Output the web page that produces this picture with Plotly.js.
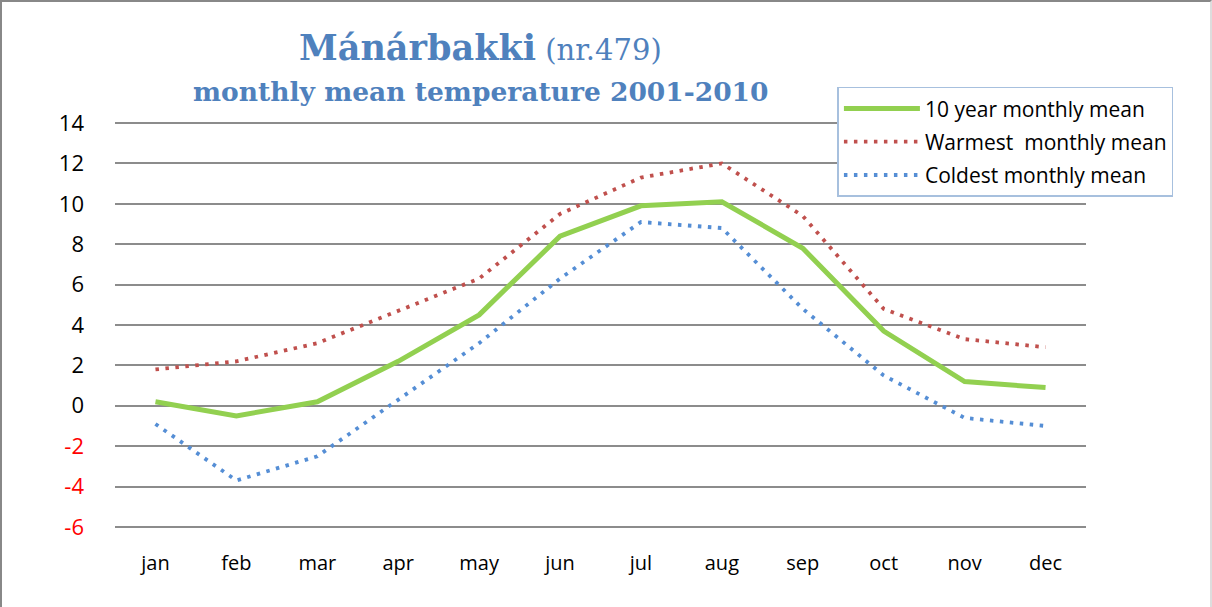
<!DOCTYPE html>
<html>
<head>
<meta charset="utf-8">
<script src="https://cdn.plot.ly/plotly-3.0.1.min.js"></script>
<style>
html,body{margin:0;padding:0;background:#fff;}
#chart{width:1212px;height:607px;box-sizing:border-box;border-left:2px solid #888;border-top:2px solid #888;border-right:2px solid #ddd;}
</style>
</head>
<body>
<div id="chart"></div>
<script>
const months = ["jan","feb","mar","apr","may","jun","jul","aug","sep","oct","nov","dec"];
const meanTemp = [0.2, -0.5, 0.2, 2.2, 4.5, 8.4, 9.9, 10.1, 7.8, 3.7, 1.2, 0.9];
const warmest = [1.8, 2.2, 3.1, 4.7, 6.3, 9.5, 11.3, 12.0, 9.4, 4.8, 3.3, 2.9];
const coldest = [-0.9, -3.7, -2.5, 0.3, 3.1, 6.3, 9.1, 8.8, 4.8, 1.5, -0.6, -1.0];
const yTicks = [-6, -4, -2, 0, 2, 4, 6, 8, 10, 12, 14];
const yTickText = yTicks.map(v => v < 0 ? '<span style="color:#ff0000">' + v + '</span>' : String(v));

const traces = [
  {x: months, y: meanTemp, name: "10 year monthly mean", type: "scatter", mode: "lines",
   legendgroup: "a", line: {color: "#92D050", width: 5}},
  {x: months, y: warmest, name: "Warmest  monthly mean", type: "scatter", mode: "lines",
   legendgroup: "b", line: {color: "#C0504D", width: 3.8, dash: "3.5px,6.5px"}},
  {x: months, y: coldest, name: "Coldest monthly mean", type: "scatter", mode: "lines",
   legendgroup: "c", line: {color: "#558ED5", width: 3.8, dash: "3.5px,6.5px"}}
];

const layout = {
  width: 1208, height: 605,
  margin: {l: 112.5, r: 123.5, t: 119, b: 78, pad: 0},
  paper_bgcolor: "#fff", plot_bgcolor: "#fff",
  font: {family: "Open Sans, sans-serif", size: 19, color: "#000"},
  showlegend: true,
  legend: {x: 0.744, y: 1.084, xanchor: "left", yanchor: "top", bgcolor: "#fff",
    bordercolor: "#A7C0DE", borderwidth: 1.5, font: {size: 21, family: "Open Sans, sans-serif"},
    traceorder: "grouped", tracegroupgap: 3, itemwidth: 76},
  xaxis: {type: "category", range: [-0.5, 11.5], showgrid: false, zeroline: false, showline: false,
    ticks: "", tickfont: {size: 20}, ticklabelstandoff: 20},
  yaxis: {range: [-6.1, 14.1], tickvals: yTicks, ticktext: yTickText, showgrid: true,
    gridcolor: "#8C8C8C", gridwidth: 2, zeroline: false, showline: false, ticks: "",
    tickfont: {size: 22}, ticklabelstandoff: 30},
  annotations: [
    {xref: "paper", yref: "paper", x: 0.376, y: 1.18, xanchor: "center", yanchor: "middle", showarrow: false,
     text: '<b>Mánárbakki</b><span style="font-size:29px"> (nr.479)</span>',
     font: {family: "DejaVu Serif, serif", size: 35, color: "#4F81BD"}},
    {xref: "paper", yref: "paper", x: 0.376, y: 1.072, xanchor: "center", yanchor: "middle", showarrow: false,
     text: '<b>monthly mean temperature 2001-2010</b>',
     font: {family: "DejaVu Serif, serif", size: 26.5, color: "#4F81BD"}}
  ]
};

Plotly.newPlot("chart", traces, layout, {displayModeBar: false, staticPlot: true});
</script>
</body>
</html>
